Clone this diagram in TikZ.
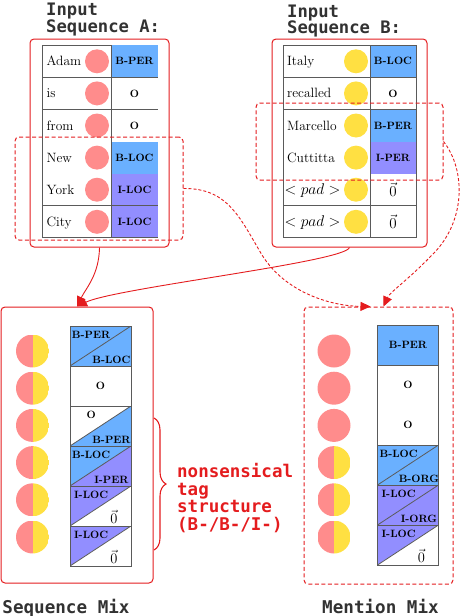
\RequirePackage{fix-cm}
\documentclass[tikz,border=0pt]{standalone}
\usepackage{fontspec}
\setmonofont{DejaVu Sans Mono}
\usetikzlibrary{arrows.meta,decorations.pathreplacing,calc}
\definecolor{myred}{RGB}{228,28,30}
\definecolor{pinkc}{RGB}{255,140,140}
\definecolor{yelc}{RGB}{255,224,66}
\definecolor{bluec}{RGB}{106,176,255}
\definecolor{purc}{RGB}{146,142,255}
\definecolor{tgray}{RGB}{90,90,90}
\definecolor{dgray}{RGB}{50,50,50}
\tikzset{
 ttl/.style={font=\ttfamily\bfseries\fontsize{17.2}{16.7}\selectfont, text=dgray, align=left, inner sep=0, anchor=north west},
 botl/.style={font=\ttfamily\bfseries\fontsize{17.6}{18}\selectfont, text=dgray, inner sep=0, anchor=base},
 redtxt/.style={font=\ttfamily\bfseries\fontsize{17.5}{17.5}\selectfont, text=myred, align=left, inner sep=0, anchor=north west},
 word/.style={font=\fontsize{13.5}{15}\selectfont, inner sep=0, anchor=base west},
 padw/.style={word, font=\fontsize{15.5}{17}\selectfont},
 tagt/.style={font=\bfseries\fontsize{10.6}{12}\selectfont, inner sep=0},
 vect/.style={font=\fontsize{15}{17}\selectfont, inner sep=0},
 tagcell/.style={tagt, minimum width=47pt, minimum height=32.1pt},
 dotA/.style={circle, fill=pinkc, minimum size=24pt, inner sep=0},
 dotB/.style={circle, fill=yelc, minimum size=24pt, inner sep=0},
 bigdot/.style={circle, minimum size=33pt, inner sep=0},
 halfdot/.style={bigdot, path picture={\fill[pinkc] (path picture bounding box.north west) rectangle (path picture bounding box.south); \fill[yelc] (path picture bounding box.north) rectangle (path picture bounding box.south east);}},
 fulldot/.style={bigdot, fill=pinkc},
 tline/.style={draw=tgray, line width=0.8pt},
 mixcell/.style={draw=tgray, line width=0.8pt, minimum width=61pt, minimum height=40pt, inner sep=0, tagt},
 redbox/.style={draw=myred, line width=1pt, rounded corners=4pt, inner sep=0},
 dashbox/.style={redbox, dash pattern=on 4pt off 2.5pt},
 conn/.style={draw=myred, line width=0.9pt, -{Triangle[length=10pt,width=9pt]}},
 dconn/.style={conn, dash pattern=on 3pt off 2pt},
}
\newcommand{\vz}{\fontsize{14.5}{16}\selectfont\kern5pt$\vec{0}$}
\newcommand{\splitcell}[6]{%
 \node[mixcell, path picture={
   \fill[#3] (path picture bounding box.north west) -- (path picture bounding box.north east) -- (path picture bounding box.south west) -- cycle;
   \fill[#4] (path picture bounding box.north east) -- (path picture bounding box.south east) -- (path picture bounding box.south west) -- cycle;
   \draw[tgray, line width=0.8pt] (path picture bounding box.south west) -- (path picture bounding box.north east);}] (#1) at (#2) {};
 \node[tagt, anchor=north] (#1-a) at ([shift={(21.5,5)}]#1.north west) {#5};
 \node[tagt, anchor=base] (#1-b) at ([shift={(-20,-2.5)}]#1.south east) {#6};
}
\begin{document}
\begin{tikzpicture}[x=1pt,y=-1pt]
\useasboundingbox (0,0) rectangle (462,616);

% titles
\node[ttl] (tA) at (46,2.7) {Input\\Sequence A:};
\node[ttl] (tB) at (287,4.5) {Input\\Sequence B:};

% ---------- table A ----------
\node[tagcell, fill=bluec] (gA1) at (134.5,61.3) {B-PER};
\node[tagcell] (gA2) at (134.5,93.4) {O};
\node[tagcell] (gA3) at (134.5,125.5) {O};
\node[tagcell, fill=bluec] (gA4) at (134.5,157.6) {B-LOC};
\node[tagcell, fill=purc] (gA5) at (134.5,189.7) {I-LOC};
\node[tagcell, fill=purc] (gA6) at (134.5,221.8) {I-LOC};
\draw[tline] (42,45.2) -- (42,237.8);
\draw[tline] (111,45.2) -- (111,237.8);
\draw[tline] (42,45.2) -- (111,45.2);
\draw[tline] (42,77.3) -- (158,77.3);
\draw[tline] (42,109.4) -- (158,109.4);
\draw[tline] (42,205.7) -- (158,205.7);
\draw[tline] (42,237.8) -- (158,237.8);
\node[word] (wA1) at (46.5,65.8) {Adam};
\node[word] (wA2) at (46.5,97.9) {is};
\node[word] (wA3) at (46.5,130) {from};
\node[word] (wA4) at (46.5,162.1) {New};
\node[word] (wA5) at (46.5,194.2) {York};
\node[word] (wA6) at (46.5,226.3) {City};
\node[dotA] (dA1) at (97,61.3) {};
\node[dotA] (dA2) at (97,93.4) {};
\node[dotA] (dA3) at (97,125.5) {};
\node[dotA] (dA4) at (97,157.6) {};
\node[dotA] (dA5) at (97,189.7) {};
\node[dotA] (dA6) at (97,221.8) {};

% ---------- table B ----------
\node[tagcell, minimum width=46pt, fill=bluec] (gB1) at (393,61.3) {B-LOC};
\node[tagcell, minimum width=46pt] (gB2) at (393,93.4) {O};
\node[tagcell, minimum width=46pt, fill=bluec] (gB3) at (393,125.5) {B-PER};
\node[tagcell, minimum width=46pt, fill=purc] (gB4) at (393,157.6) {I-PER};
\node[tagcell, minimum width=46pt, vect] (gB5) at (393,189.7) {$\vec{0}$};
\node[tagcell, minimum width=46pt, vect] (gB6) at (393,221.8) {$\vec{0}$};
\draw[tline] (283,45.2) rectangle (416,237.8);
\draw[tline] (370,45.2) -- (370,237.8);
\draw[tline] (283,77.3) -- (416,77.3);
\draw[tline] (283,109.4) -- (416,109.4);
\draw[tline] (283,205.7) -- (416,205.7);
\node[word] (wB1) at (287,65.8) {Italy};
\node[word] (wB2) at (287,97.9) {recalled};
\node[word] (wB3) at (287,130) {Marcello};
\node[word] (wB4) at (287,162.1) {Cuttitta};
\node[padw] (wB5) at (284.5,194.2) {$<pad>$};
\node[padw] (wB6) at (284.5,226.3) {$<pad>$};
\node[dotB] (dB1) at (356,61.3) {};
\node[dotB] (dB2) at (356,93.4) {};
\node[dotB] (dB3) at (356,125.5) {};
\node[dotB] (dB4) at (356,157.6) {};
\node[dotB] (dB5) at (356,189.7) {};
\node[dotB] (dB6) at (356,221.8) {};

% ---------- boxes ----------
\node[redbox, minimum width=139pt, minimum height=208pt] (boxA) at (99.5,143) {};
\node[redbox, minimum width=155pt, minimum height=208pt] (boxB) at (349.5,143) {};
\node[dashbox, minimum width=168pt, minimum height=103pt] (mentA) at (99,188.5) {};
\node[dashbox, minimum width=187pt, minimum height=77pt] (mentB) at (349.5,141.5) {};

% ---------- sequence mix ----------
\node[redbox, minimum width=152pt, minimum height=276pt] (mixS) at (77,445) {};
\splitcell{sS1}{100.5,346}{bluec}{bluec}{B-PER}{B-LOC}
\node[mixcell] (sS2) at (100.5,386) {O};
\splitcell{sS3}{100.5,426}{white}{bluec}{O}{B-PER}
\splitcell{sS4}{100.5,466}{bluec}{purc}{B-LOC}{I-PER}
\splitcell{sS5}{100.5,506}{purc}{white}{I-LOC}{\vz}
\splitcell{sS6}{100.5,546}{purc}{white}{I-LOC}{\vz}
\node[halfdot] (cS1) at (32.5,351) {};
\node[halfdot] (cS2) at (32.5,388.2) {};
\node[halfdot] (cS3) at (32.5,425.4) {};
\node[halfdot] (cS4) at (32.5,462.6) {};
\node[halfdot] (cS5) at (32.5,499.8) {};
\node[halfdot] (cS6) at (32.5,537) {};

% ---------- mention mix ----------
\node[dashbox, minimum width=149pt, minimum height=277pt] (mixM) at (378.5,445.5) {};
\node[mixcell, fill=bluec] (mM1) at (408,345) {B-PER};
\node[mixcell, minimum height=80pt] (mM2) at (408,405) {};
\node[tagt] (mM2a) at (408,385) {O};
\node[tagt] (mM2b) at (408,425) {O};
\splitcell{mM4}{408,465}{bluec}{bluec}{B-LOC}{B-ORG}
\splitcell{mM5}{408,505}{purc}{purc}{I-LOC}{I-ORG}
\splitcell{mM6}{408,545}{purc}{white}{I-LOC}{\vz}
\node[fulldot] (cM1) at (334,351) {};
\node[fulldot] (cM2) at (334,388.2) {};
\node[fulldot] (cM3) at (334,425.4) {};
\node[halfdot] (cM4) at (334,462.6) {};
\node[halfdot] (cM5) at (334,499.8) {};
\node[halfdot] (cM6) at (334,537) {};

% brace and note
\draw[myred, line width=1.1pt, decorate, decoration={brace, amplitude=12pt}] (154,418) -- (154,550);
\node[redtxt] (note) at (177,463.5) {nonsensical\\tag\\structure\\(B-/B-/I-)};

% labels
\node[botl] (lS) at (66,613) {Sequence Mix};
\node[botl] (lM) at (380.5,613) {Mention Mix};

% connectors
\draw[conn] (boxA.south) .. controls (99,275) and (86,288) .. (mixS.north);
\draw[conn] (boxB.south) .. controls (345,262) and (115,288) .. (mixS.north);
\draw[dconn] (mentA.east) .. controls (228,188) and (240,218) .. (262,255) .. controls (285,292) and (330,306) .. ([xshift=-8pt]mixM.north);
\draw[dconn] (mentB.east) .. controls (466,170) and (466,222) .. (432,255) .. controls (408,280) and (390,292) .. ([xshift=5pt]mixM.north);
\end{tikzpicture}
\end{document}
